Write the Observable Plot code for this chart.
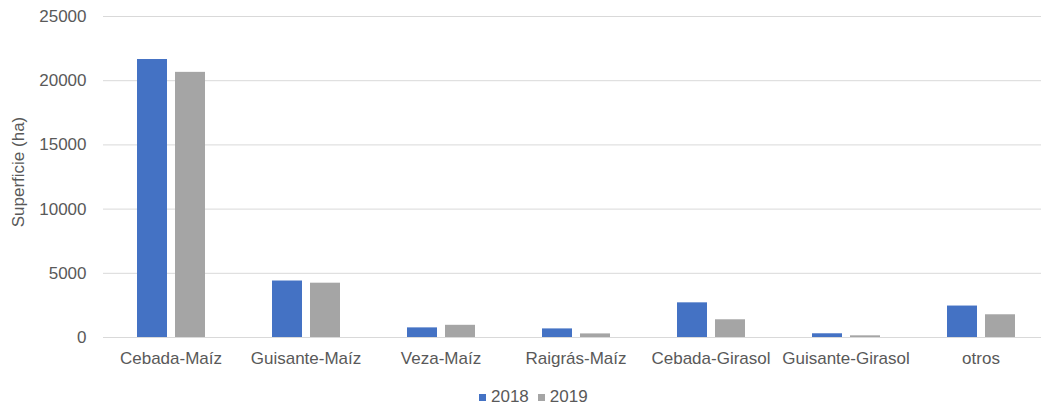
<!DOCTYPE html>
<html><head><meta charset="utf-8">
<script src="https://cdn.jsdelivr.net/npm/d3@7"></script>
<script src="https://cdn.jsdelivr.net/npm/@observablehq/plot@0.6"></script>
<style>
html,body{margin:0;padding:0;background:#fff;overflow:hidden;}
#wrap{position:relative;width:1041px;height:407px;overflow:hidden;font-family:"Liberation Sans",Arial,sans-serif;}
#legend{position:absolute;left:479px;top:388px;display:flex;align-items:center;font-size:17px;line-height:18px;color:#595959;}
#legend .item{display:flex;align-items:center;margin-right:9px;}
#legend .sw{width:7px;height:7px;margin-right:5px;}
#ylabel{position:absolute;left:19px;top:172px;transform:translate(-50%,-50%) rotate(-90deg);white-space:nowrap;font-size:17px;line-height:20px;color:#595959;}
</style></head><body>
<div id="wrap"><div id="chart"></div><div id="ylabel"></div><div id="legend"></div></div>
<script>
const categories = ["Cebada-Maíz", "Guisante-Maíz", "Veza-Maíz", "Raigrás-Maíz", "Cebada-Girasol", "Guisante-Girasol", "otros"];
const years = ["2018", "2019"];
const values2018 = [21650, 4400, 750, 670, 2700, 290, 2450];
const values2019 = [20650, 4230, 950, 280, 1380, 130, 1770];
const colors = ["#4472C4", "#A5A5A5"];
const yTicks = [0, 5000, 10000, 15000, 20000, 25000];
const yLabel = "Superficie (ha)";

const data = categories.flatMap((c, i) => [
  {category: c, year: years[0], value: values2018[i]},
  {category: c, year: years[1], value: values2019[i]}
]);

const chart = Plot.plot({
  width: 1050, height: 372,
  marginLeft: 100, marginRight: 0, marginTop: 16, marginBottom: 35,
  style: {fontFamily: "Liberation Sans, Arial, sans-serif", fontSize: "17px", color: "#595959", background: "#fff", maxWidth: "none", overflow: "visible"},
  fx: {domain: categories, padding: 0, label: null},
  x: {domain: years, paddingInner: 0.218, paddingOuter: 0.849, axis: null},
  y: {domain: [0, 25000], label: null},
  color: {domain: years, range: colors},
  marks: [
    Plot.gridY(yTicks, {stroke: "#d9d9d9", strokeOpacity: 1, strokeWidth: 1}),
    Plot.barY(data, {fx: "category", x: "year", y: "value", fill: "year"}),
    Plot.axisY(yTicks, {tickSize: 0, tickPadding: 17, fontSize: 17, label: null, fill: "#595959", tickFormat: d => String(d)}),
    Plot.axisFx({anchor: "bottom", tickSize: 0, tickPadding: 14, fontSize: 17, label: null, fill: "#595959"})
  ]
});
document.getElementById("chart").appendChild(chart);
document.getElementById("ylabel").textContent = yLabel;

const legend = document.getElementById("legend");
years.forEach((y, i) => {
  const item = document.createElement("div");
  item.className = "item";
  const sw = document.createElement("span");
  sw.className = "sw";
  sw.style.background = colors[i];
  const t = document.createElement("span");
  t.textContent = y;
  item.appendChild(sw); item.appendChild(t);
  legend.appendChild(item);
});
</script>
</body></html>
